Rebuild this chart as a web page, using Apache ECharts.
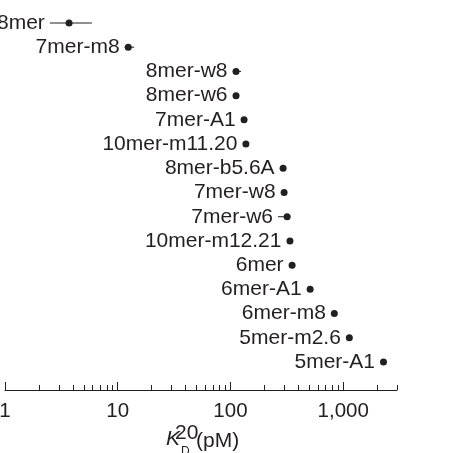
<!DOCTYPE html>
<html>
<head>
<meta charset="utf-8">
<script src="https://cdn.jsdelivr.net/npm/echarts@6/dist/echarts.min.js"></script>
<style>
  html, body { margin: 0; padding: 0; background: #fff; }
  #chart { width: 463px; height: 453px; }
</style>
</head>
<body>
<div id="chart"></div>
<script>
// site types, top to bottom
const sites = [
  "8mer", "7mer-m8", "8mer-w8", "8mer-w6", "7mer-A1", "10mer-m11.20",
  "8mer-b5.6A", "7mer-w8", "7mer-w6", "10mer-m12.21", "6mer", "6mer-A1",
  "6mer-m8", "5mer-m2.6", "5mer-A1"
];
// KD (pM) with lower / upper error
const kd     = [3.7, 12.4, 112, 112, 132, 137, 293, 299, 318, 337, 352, 509, 834, 1133, 2277];
const kdLow  = [2.5, 11.5, 105, 106, 126, 132, 282, 288, 264, 322, 340, 490, 800, 1090, 2190];
const kdHigh = [5.9, 14.0, 124, 118, 138, 142, 304, 310, 340, 350, 365, 530, 870, 1180, 2360];

const majorTicks = [1, 10, 100, 1000];
const minorTicks = [2, 3, 4, 5, 6, 7, 8, 9, 20, 30, 40, 50, 60, 70, 80, 90,
  200, 300, 400, 500, 600, 700, 800, 900, 2000, 3000];

const ink = "#231f20";
const font = "Liberation Sans, Arial, sans-serif";

const chart = echarts.init(document.getElementById("chart"));

const data = sites.map((s, i) => [kdLow[i], kd[i], kdHigh[i], i]);

chart.setOption({
  animation: false,
  grid: { left: 5, right: 66, top: 23, bottom: 91, outerBoundsMode: "none", containLabel: false },
  xAxis: [
    {
      type: "log",
      min: 1,
      max: 3000,
      offset: 28,
      axisLine: { show: true, onZero: false, lineStyle: { color: ink, width: 1 } },
      axisTick: { show: true, inside: true, length: 8, customValues: majorTicks, lineStyle: { color: ink } },
      axisLabel: {
        customValues: majorTicks,
        color: ink,
        fontFamily: font,
        fontSize: 20.5,
        margin: 11,
        formatter: (v) => (v >= 1000 ? v.toLocaleString("en-US") : String(v)),
      },
      splitLine: { show: false },
    },
    {
      type: "log",
      min: 1,
      max: 3000,
      offset: 28,
      position: "bottom",
      axisLine: { show: false },
      axisTick: { show: true, inside: true, length: 5, customValues: minorTicks, lineStyle: { color: ink } },
      axisLabel: { show: false },
      splitLine: { show: false },
    },
  ],
  yAxis: {
    type: "category",
    data: sites,
    inverse: true,
    boundaryGap: false,
    show: false,
  },
  series: [
    {
      type: "custom",
      xAxisIndex: 0,
      data: data,
      encode: { x: [0, 1, 2], y: 3 },
      renderItem(params, api) {
        const lo = api.coord([api.value(0), api.value(3)]);
        const mid = api.coord([api.value(1), api.value(3)]);
        const hi = api.coord([api.value(2), api.value(3)]);
        const r = 3.5;
        const textX = Math.min(lo[0], mid[0] - r) - 5;
        return {
          type: "group",
          children: [
            {
              type: "line",
              shape: { x1: lo[0], y1: mid[1], x2: hi[0], y2: mid[1] },
              style: { stroke: ink, lineWidth: 1 },
            },
            {
              type: "circle",
              shape: { cx: mid[0], cy: mid[1], r: r },
              style: { fill: ink },
            },
            {
              type: "text",
              x: textX,
              y: mid[1],
              style: {
                text: sites[params.dataIndex],
                fill: ink,
                font: "21px " + font,
                align: "right",
                verticalAlign: "middle",
              },
            },
          ],
        };
      },
    },
  ],
  graphic: [
    {
      type: "text",
      left: 166,
      top: 429,
      style: { text: "K", fill: ink, font: "italic 21px " + font },
    },
    {
      type: "text",
      left: 181,
      top: 446,
      style: { text: "D", fill: ink, font: "12px " + font },
    },
    {
      type: "text",
      left: 175,
      top: 423,
      style: { text: "20", fill: ink, font: "21px " + font },
    },
    {
      type: "text",
      left: 196,
      top: 431,
      style: { text: "(pM)", fill: ink, font: "21px " + font },
    },
  ],
});
</script>
</body>
</html>
